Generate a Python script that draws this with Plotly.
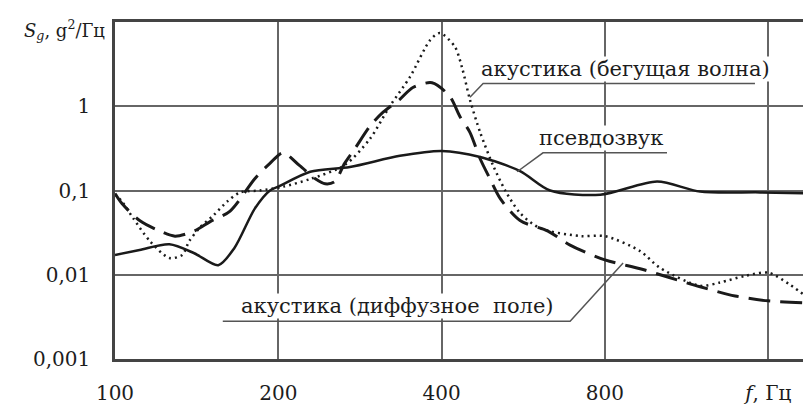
import math
import plotly.graph_objects as go

# ---------------- data ----------------
f_pseudo = [100, 111, 126, 140, 155, 166, 181, 193, 200, 229, 271, 335, 400, 471, 558, 634, 784, 998, 1198, 1545, 1918]
s_pseudo = [0.0172, 0.0197, 0.023, 0.018, 0.013, 0.0208, 0.061, 0.1, 0.111, 0.167, 0.19, 0.258, 0.295, 0.25, 0.17, 0.1, 0.089, 0.128, 0.097, 0.095, 0.092]

f_wave = [100, 103, 108, 116, 126, 133, 137, 143, 152, 161, 170, 185, 204, 229, 265, 295, 321, 350, 381, 397,
          423, 436, 451, 471, 498, 524, 558, 607, 720, 800, 929, 1010, 1198, 1304, 1450, 1600, 1755, 1918]
s_wave = [0.09, 0.074, 0.047, 0.025, 0.0158, 0.0172, 0.025, 0.0357, 0.051, 0.074, 0.095, 0.1, 0.111, 0.137, 0.2, 0.41, 1.0, 2.25, 6.1, 7.4,
          5.1, 2.9, 1.2, 0.49, 0.196, 0.1, 0.054, 0.0357, 0.0288, 0.0287, 0.0191, 0.0121, 0.0074, 0.0081, 0.0097, 0.0106, 0.0076, 0.005]

f_diff = [100, 103, 111, 121, 129, 140, 150, 163, 181, 193, 204, 219, 234, 244, 254, 265, 277, 295, 312, 335, 354, 384,
          414, 432, 451, 471, 491, 513, 558, 628, 690, 800, 929, 1055, 1198, 1390, 1600, 1918]
s_diff = [0.092, 0.07, 0.044, 0.033, 0.0287, 0.033, 0.043, 0.057, 0.138, 0.21, 0.28, 0.197, 0.138, 0.12, 0.127, 0.21, 0.316, 0.58, 0.85, 1.21, 1.67, 1.9,
          1.31, 0.76, 0.49, 0.238, 0.138, 0.08, 0.044, 0.033, 0.0225, 0.015, 0.0118, 0.0092, 0.0072, 0.0056, 0.0049, 0.0046]

x_ticks = [100, 200, 400, 800, 1600]
x_tick_labels = ["100", "200", "400", "800", "<i>f</i>, Гц"]
y_ticks = [0.001, 0.01, 0.1, 1, 10]
y_tick_labels = ["0,001", "0,01", "0,1", "1", ""]

labels = ["акустика (бегущая волна)", "псевдозвук", "акустика (диффузное&nbsp; поле)"]
label_x = [471, 603, 170]
# underline + leader polylines for each label (data coords)
label_lines_f = [[1512, 477, 451], [1041, 615, 551], [158, 690, 864]]
label_lines_s = [[1.86, 1.86, 1.28], [0.28, 0.28, 0.167], [0.0028, 0.0028, 0.0138]]

FONT = "DejaVu Serif"
TXT = "#1c1c1c"
GRID = "#666666"

fig = go.Figure()

fig.add_trace(go.Scatter(x=f_diff, y=s_diff, mode="lines",
                         line=dict(color="#1a1a1a", width=3, dash="22px,10px", shape="spline", smoothing=0.8),
                         hoverinfo="skip"))
fig.add_trace(go.Scatter(x=f_wave, y=s_wave, mode="lines",
                         line=dict(color="#1a1a1a", width=2.5, dash="2px,4px", shape="spline", smoothing=0.8),
                         hoverinfo="skip"))
fig.add_trace(go.Scatter(x=f_pseudo, y=s_pseudo, mode="lines",
                         line=dict(color="#1a1a1a", width=2.5, shape="spline", smoothing=0.8),
                         hoverinfo="skip"))

for lf, ls in zip(label_lines_f, label_lines_s):
    fig.add_trace(go.Scatter(x=lf, y=ls, mode="lines",
                             line=dict(color="#555555", width=1.5),
                             hoverinfo="skip"))

annotations = []
for txt, fx, ls in zip(labels, label_x, label_lines_s):
    annotations.append(dict(x=math.log10(fx), y=math.log10(ls[0]), xref="x", yref="y",
                            text=txt, showarrow=False, xanchor="left", yanchor="bottom",
                            yshift=2, bgcolor="white", borderpad=0,
                            font=dict(family=FONT, size=21, color=TXT)))
annotations.append(dict(x=-0.012, y=0.975, xref="paper", yref="paper",
                        text="<i>S</i><sub><i>g</i></sub>, g<sup>2</sup>/Гц", showarrow=False,
                        xanchor="right", yanchor="middle",
                        font=dict(family=FONT, size=18, color=TXT)))

# page body has an 8px margin; figure is sized/placed so the plot lands where the reference has it
fig.update_layout(
    width=803, height=397,
    margin=dict(l=107, r=0, t=14, b=43),
    paper_bgcolor="white", plot_bgcolor="white",
    showlegend=False,
    annotations=annotations,
    font=dict(family=FONT, size=20, color=TXT),
)
fig.update_xaxes(type="log", range=[2, math.log10(1918)],
                 tickvals=x_ticks, ticktext=x_tick_labels,
                 showgrid=True, gridcolor=GRID, gridwidth=1.6,
                 showline=True, linecolor="#444444", linewidth=2.5, mirror=True,
                 ticks="", ticklabelstandoff=14, zeroline=False)
fig.update_yaxes(type="log", range=[-3, 1],
                 tickvals=y_ticks, ticktext=y_tick_labels,
                 showgrid=True, gridcolor=GRID, gridwidth=1.6,
                 showline=True, linecolor="#444444", linewidth=2.5, mirror=False,
                 ticks="", ticklabelstandoff=18, zeroline=False)

fig.write_html("out.html")
